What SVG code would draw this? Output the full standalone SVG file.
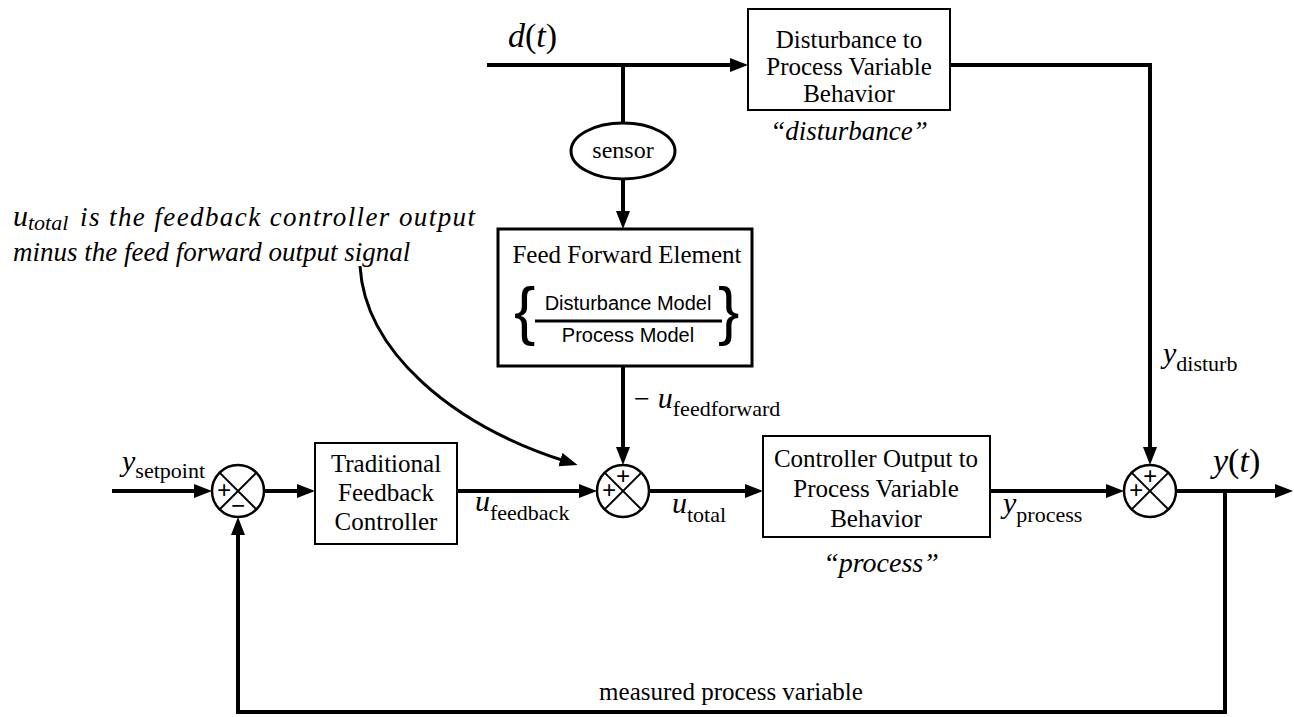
<svg xmlns="http://www.w3.org/2000/svg" width="1294" height="717" viewBox="0 0 1294 717">
<style>
.box{fill:#fff;stroke:#000;stroke-width:2}
.ffbox{fill:#fff;stroke:#000;stroke-width:3}
.sum{fill:#fff;stroke:#000;stroke-width:2.5}
.x{stroke:#000;stroke-width:2}
.w{stroke:#000;stroke-width:4;fill:none}
.t{font-family:"Liberation Serif","Times New Roman",serif;font-size:25px;fill:#000}
.c{text-anchor:middle}
.i{font-style:italic}
.s{font-family:"Liberation Sans",Arial,sans-serif;font-size:20px;fill:#000;text-anchor:middle}
.sign{font-family:"Liberation Serif",serif;font-size:25px;font-weight:bold;fill:#000;text-anchor:middle}
.var{font-family:"Liberation Serif",serif;font-size:30px;font-style:italic;fill:#000}
.sub{font-family:"Liberation Serif",serif;font-size:22px;fill:#000}
.note{font-family:"Liberation Serif",serif;font-size:27px;font-style:italic;fill:#000}
.brace{font-family:"Liberation Sans",Arial,sans-serif;font-size:64px;fill:#000}
</style>
<defs>
<marker id="ah" markerUnits="userSpaceOnUse" markerWidth="19" markerHeight="15" refX="8" refY="7" orient="auto">
<path d="M0,0 L18,7 L0,14 z" fill="#000"/>
</marker>
</defs>

<g id="connectors">
<path class="w" d="M112 491 H202" marker-end="url(#ah)"/>
<path class="w" d="M264 491 H305" marker-end="url(#ah)"/>
<path class="w" d="M457 491 H587" marker-end="url(#ah)"/>
<path class="w" d="M649 491 H753" marker-end="url(#ah)"/>
<path class="w" d="M990 491 H1114" marker-end="url(#ah)"/>
<path class="w" d="M1176 491 H1283" marker-end="url(#ah)"/>
<path class="w" d="M487 65 H738" marker-end="url(#ah)"/>
<path class="w" d="M623 65 V123"/>
<path class="w" d="M623 179 V219" marker-end="url(#ah)"/>
<path class="w" d="M623 366 V455" marker-end="url(#ah)"/>
<path class="w" d="M950 65 H1150 V455" marker-end="url(#ah)"/>
<path class="w" d="M1225 491 V712 H238 V527" marker-end="url(#ah)"/>
<path d="M360 266 C365 350 450 425 568 462" fill="none" stroke="#000" stroke-width="3" marker-end="url(#ah)"/>
</g>

<g id="disturbance-block">
<rect class="box" x="748" y="9" width="202" height="101"/>
<text class="t c" x="849" y="48">Disturbance to</text>
<text class="t c" x="849" y="75">Process Variable</text>
<text class="t c" x="849" y="102">Behavior</text>
<text class="t c i" x="849" y="140" style="font-size:27px">“disturbance”</text>
</g>

<g id="sensor">
<ellipse cx="623" cy="151" rx="52" ry="28" fill="#fff" stroke="#000" stroke-width="3"/>
<text class="t c" x="623" y="158" style="font-size:24px">sensor</text>
</g>

<g id="feedforward">
<rect class="ffbox" x="498" y="229" width="254" height="137"/>
<text class="t c" x="627" y="263">Feed Forward Element</text>
<text class="s" x="628" y="310">Disturbance Model</text>
<line x1="535" y1="321" x2="722" y2="321" stroke="#000" stroke-width="3"/>
<text class="s" x="628" y="342">Process Model</text>
<text class="brace" x="514" y="333">{</text>
<text class="brace" x="718" y="333">}</text>
</g>

<g id="traditional-controller">
<rect class="box" x="315" y="443" width="142" height="101"/>
<text class="t c" x="386" y="472">Traditional</text>
<text class="t c" x="386" y="501">Feedback</text>
<text class="t c" x="386" y="530">Controller</text>
</g>

<g id="process-block">
<rect class="box" x="763" y="436" width="227" height="101"/>
<text class="t c" x="876" y="467">Controller Output to</text>
<text class="t c" x="876" y="497">Process Variable</text>
<text class="t c" x="876" y="527">Behavior</text>
<text class="t c i" x="881" y="572" style="font-size:28px">“process”</text>
</g>

<g id="sum1">
<circle class="sum" cx="238" cy="491" r="26"/>
<line class="x" x1="219.6" y1="472.6" x2="256.4" y2="509.4"/>
<line class="x" x1="256.4" y1="472.6" x2="219.6" y2="509.4"/>
<text class="sign" x="224" y="499">+</text>
<text class="sign" x="238" y="514">−</text>
</g>

<g id="sum2">
<circle class="sum" cx="623" cy="491" r="26"/>
<line class="x" x1="604.6" y1="472.6" x2="641.4" y2="509.4"/>
<line class="x" x1="641.4" y1="472.6" x2="604.6" y2="509.4"/>
<text class="sign" x="609" y="499">+</text>
<text class="sign" x="623" y="485">+</text>
</g>

<g id="sum3">
<circle class="sum" cx="1150" cy="491" r="26"/>
<line class="x" x1="1131.6" y1="472.6" x2="1168.4" y2="509.4"/>
<line class="x" x1="1168.4" y1="472.6" x2="1131.6" y2="509.4"/>
<text class="sign" x="1136" y="499">+</text>
<text class="sign" x="1150" y="485">+</text>
</g>

<g id="labels">
<text x="508" y="47" font-family="Liberation Serif,serif" font-size="34"><tspan font-style="italic">d</tspan>(<tspan font-style="italic">t</tspan>)</text>
<text x="1213" y="472" font-family="Liberation Serif,serif" font-size="34"><tspan font-style="italic">y</tspan>(<tspan font-style="italic">t</tspan>)</text>
<text x="122" y="471"><tspan class="var">y</tspan><tspan class="sub" dy="7">setpoint</tspan></text>
<text x="475" y="511"><tspan class="var">u</tspan><tspan class="sub" dy="9">feedback</tspan></text>
<text x="672" y="513"><tspan class="var">u</tspan><tspan class="sub" dy="9">total</tspan></text>
<text x="1003" y="513"><tspan class="var">y</tspan><tspan class="sub" dy="9">process</tspan></text>
<text x="1163" y="363"><tspan class="var">y</tspan><tspan class="sub" dy="8">disturb</tspan></text>
<text x="634" y="408"><tspan font-family="Liberation Serif,serif" font-size="28">−</tspan><tspan class="var" dx="8">u</tspan><tspan class="sub" dy="8">feedforward</tspan></text>
<text class="t c" x="731" y="700">measured process variable</text>
<text x="13" y="226"><tspan class="var">u</tspan><tspan class="sub i" style="font-size:22px" dy="4">total</tspan></text>
<text class="note" x="80" y="226" textLength="395" lengthAdjust="spacing">is the feedback controller output</text>
<text class="note" x="13" y="261">minus the feed forward output signal</text>
</g>
</svg>
